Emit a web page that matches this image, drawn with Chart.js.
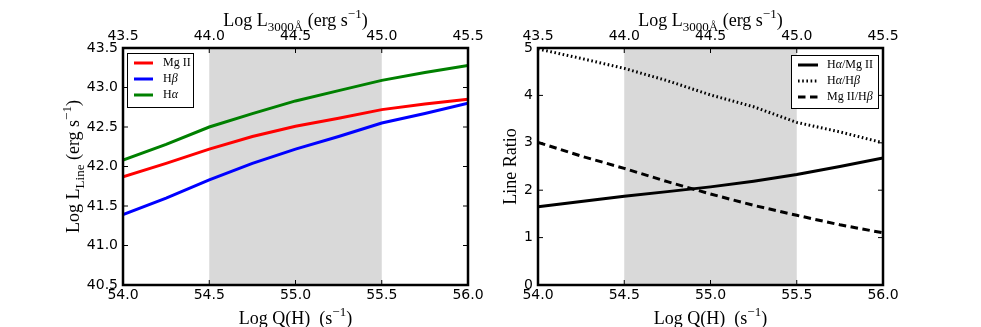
<!DOCTYPE html>
<html>
<head>
<meta charset="utf-8">
<script src="https://cdn.jsdelivr.net/npm/chart.js@4.4.1/dist/chart.umd.min.js"></script>
<style>
  html, body { margin: 0; padding: 0; background: #fff; }
  .panel { position: absolute; top: 0; }
</style>
</head>
<body>
<canvas id="lumChart" class="panel" style="left:0" width="490" height="327"></canvas>
<canvas id="ratioChart" class="panel" style="left:490px" width="491" height="327"></canvas>
<script>
/* Line luminosities and line ratios vs ionising photon rate */

const logQ = [54.0, 54.25, 54.5, 54.75, 55.0, 55.25, 55.5, 55.75, 56.0];

// left panel: Log L_line
const mgII   = [41.87, 42.04, 42.22, 42.38, 42.51, 42.61, 42.72, 42.79, 42.85];
const hBeta  = [41.39, 41.60, 41.83, 42.04, 42.22, 42.38, 42.55, 42.67, 42.80];
const hAlpha = [42.08, 42.28, 42.50, 42.67, 42.83, 42.96, 43.09, 43.19, 43.28];

// right panel: line ratios
const haOverMg = [1.65, 1.76, 1.87, 1.97, 2.07, 2.19, 2.33, 2.50, 2.68];
const haOverHb = [4.98, 4.78, 4.57, 4.31, 4.01, 3.76, 3.43, 3.23, 3.00];
const mgOverHb = [3.01, 2.72, 2.46, 2.18, 1.92, 1.68, 1.47, 1.27, 1.10];

const shadeRange = [54.5, 55.5];
const bottomTicks = [54.0, 54.5, 55.0, 55.5, 56.0];
const topTicks = [43.5, 44.0, 44.5, 45.0, 45.5];

const SANS = "'DejaVu Sans', sans-serif";
const SERIF = "'Liberation Serif', 'Times New Roman', serif";

const pts = (ys) => logQ.map((x, i) => ({ x: x, y: ys[i] }));

// draw text made of pieces: {t, sub, sup, i}
function drawRich(ctx, segs, x, y, size) {
  const fontFor = s => (s.i ? 'italic ' : '') + ((s.sub || s.sup) ? Math.round(size * 0.7) : size) + 'px ' + SERIF;
  let total = 0;
  segs.forEach(s => { ctx.font = fontFor(s); total += ctx.measureText(s.t).width; });
  let cx = x - total / 2;
  ctx.textAlign = 'left';
  ctx.textBaseline = 'alphabetic';
  ctx.fillStyle = '#000';
  segs.forEach(s => {
    ctx.font = fontFor(s);
    const dy = s.sub ? size * 0.25 : (s.sup ? -size * 0.42 : 0);
    ctx.fillText(s.t, cx, y + dy);
    cx += ctx.measureText(s.t).width;
  });
}

function drawRichLeft(ctx, segs, x, y, size) {
  const fontFor = s => (s.i ? 'italic ' : '') + size + 'px ' + SERIF;
  let cx = x;
  ctx.textAlign = 'left';
  ctx.textBaseline = 'middle';
  ctx.fillStyle = '#000';
  segs.forEach(s => {
    ctx.font = fontFor(s);
    ctx.fillText(s.t, cx, y);
    cx += ctx.measureText(s.t).width;
  });
}

const shadePlugin = {
  id: 'shade',
  beforeDatasetsDraw(chart) {
    const { ctx, chartArea: a, scales } = chart;
    const x0 = scales.x.getPixelForValue(shadeRange[0]);
    const x1 = scales.x.getPixelForValue(shadeRange[1]);
    ctx.save();
    ctx.fillStyle = '#d9d9d9';
    ctx.fillRect(x0, a.top, x1 - x0, a.bottom - a.top);
    ctx.restore();
  }
};

const framePlugin = {
  id: 'frame',
  afterDatasetsDraw(chart) {
    const { ctx, chartArea: a, scales } = chart;
    ctx.save();
    ctx.strokeStyle = '#000';
    ctx.lineWidth = 1;
    ctx.beginPath();
    scales.x.ticks.forEach((t, i) => {
      const px = scales.x.getPixelForTick(i);
      ctx.moveTo(px, a.bottom); ctx.lineTo(px, a.bottom - 5);
    });
    scales.x2.ticks.forEach((t, i) => {
      const px = scales.x2.getPixelForTick(i);
      ctx.moveTo(px, a.top); ctx.lineTo(px, a.top + 5);
    });
    scales.y.ticks.forEach((t, i) => {
      const py = scales.y.getPixelForTick(i);
      ctx.moveTo(a.left, py); ctx.lineTo(a.left + 5, py);
      ctx.moveTo(a.right, py); ctx.lineTo(a.right - 5, py);
    });
    ctx.stroke();
    ctx.lineWidth = 2.5;
    ctx.strokeRect(a.left, a.top, a.right - a.left, a.bottom - a.top);
    ctx.restore();
  }
};

const titlesPlugin = {
  id: 'titles',
  afterDraw(chart, args, opts) {
    const { ctx, chartArea: a } = chart;
    const cx = (a.left + a.right) / 2;
    ctx.save();
    drawRich(ctx, [{ t: 'Log L' }, { t: '3000Å', sub: true }, { t: ' (erg s' }, { t: '−1', sup: true }, { t: ')' }], cx, 26, 18);
    drawRich(ctx, [{ t: 'Log Q(H)  (s' }, { t: '−1', sup: true }, { t: ')' }], cx, 324, 18);
    ctx.translate(opts.yTitleX, (a.top + a.bottom) / 2);
    ctx.rotate(-Math.PI / 2);
    drawRich(ctx, opts.yTitle, 0, 0, 18);
    ctx.restore();
  }
};

const legendPlugin = {
  id: 'boxLegend',
  afterDraw(chart, args, opts) {
    const { ctx } = chart;
    const b = opts.box;
    ctx.save();
    ctx.fillStyle = '#fff';
    ctx.fillRect(b.x, b.y, b.w, b.h);
    ctx.strokeStyle = '#000';
    ctx.lineWidth = 1;
    ctx.strokeRect(b.x + 0.5, b.y + 0.5, b.w, b.h);
    chart.data.datasets.forEach((ds, i) => {
      const ry = b.y + 10 + i * 16;
      ctx.strokeStyle = ds.borderColor;
      ctx.lineWidth = ds.borderWidth;
      ctx.setLineDash(ds.borderDash || []);
      ctx.beginPath();
      ctx.moveTo(b.x + opts.lineX0, ry);
      ctx.lineTo(b.x + opts.lineX1, ry);
      ctx.stroke();
      ctx.setLineDash([]);
      drawRichLeft(ctx, opts.labels[i], b.x + opts.textX, ry, 12);
    });
    ctx.restore();
  }
};

function tickStyle(fmt, pad) {
  return {
    autoSkip: false, maxRotation: 0, color: '#000', padding: pad,
    font: { family: SANS, size: 14 },
    callback: fmt
  };
}

function makeScales(yMin, yMax, yStep, yFmt, yWidth) {
  return {
    x: {
      type: 'linear', position: 'bottom', min: 54, max: 56,
      afterBuildTicks: s => { s.ticks = bottomTicks.map(v => ({ value: v })); },
      ticks: tickStyle(v => v.toFixed(1), 2),
      grid: { display: false, drawTicks: false }, border: { display: false },
      afterFit: s => { s.height = 42; }
    },
    x2: {
      type: 'linear', position: 'top', min: 43.5, max: 45.5,
      afterBuildTicks: s => { s.ticks = topTicks.map(v => ({ value: v })); },
      ticks: tickStyle(v => v.toFixed(1), 3),
      grid: { display: false, drawTicks: false }, border: { display: false },
      afterFit: s => { s.height = 48; }
    },
    y: {
      type: 'linear', position: 'left', min: yMin, max: yMax,
      ticks: Object.assign(tickStyle(yFmt, 5), { stepSize: yStep }),
      grid: { display: false, drawTicks: false }, border: { display: false },
      afterFit: s => { s.width = yWidth; }
    }
  };
}

const common = {
  responsive: false, animation: false, devicePixelRatio: 1,
  elements: { point: { radius: 0 }, line: { tension: 0, borderCapStyle: 'butt' } }
};

new Chart(document.getElementById('lumChart'), {
  type: 'line',
  data: {
    datasets: [
      { label: 'Mg II', data: pts(mgII), borderColor: '#ff0000', borderWidth: 3, xAxisID: 'x', yAxisID: 'y' },
      { label: 'Hβ', data: pts(hBeta), borderColor: '#0000ff', borderWidth: 3, xAxisID: 'x', yAxisID: 'y' },
      { label: 'Hα', data: pts(hAlpha), borderColor: '#008000', borderWidth: 3, xAxisID: 'x', yAxisID: 'y' }
    ]
  },
  options: Object.assign({}, common, {
    layout: { padding: { right: 22, left: 0, top: 0, bottom: 0 } },
    scales: makeScales(40.5, 43.5, 0.5, v => v.toFixed(1), 123),
    plugins: {
      legend: { display: false }, tooltip: { enabled: false },
      titles: { yTitleX: 79, yTitle: [{ t: 'Log L' }, { t: 'Line', sub: true }, { t: ' (erg s' }, { t: '−1', sup: true }, { t: ')' }] },
      boxLegend: {
        box: { x: 127, y: 53, w: 66, h: 54 }, lineX0: 7, lineX1: 26, textX: 36,
        labels: [[{ t: 'Mg II' }], [{ t: 'H' }, { t: 'β', i: true }], [{ t: 'H' }, { t: 'α', i: true }]]
      }
    }
  }),
  plugins: [shadePlugin, framePlugin, titlesPlugin, legendPlugin]
});

new Chart(document.getElementById('ratioChart'), {
  type: 'line',
  data: {
    datasets: [
      { label: 'Hα/Mg II', data: pts(haOverMg), borderColor: '#000', borderWidth: 3, xAxisID: 'x', yAxisID: 'y' },
      { label: 'Hα/Hβ', data: pts(haOverHb), borderColor: '#000', borderWidth: 3, borderDash: [1.6, 2.6], xAxisID: 'x', yAxisID: 'y' },
      { label: 'Mg II/Hβ', data: pts(mgOverHb), borderColor: '#000', borderWidth: 3, borderDash: [7.5, 4.5], xAxisID: 'x', yAxisID: 'y' }
    ]
  },
  options: Object.assign({}, common, {
    layout: { padding: { right: 98, left: 0, top: 0, bottom: 0 } },
    scales: makeScales(0, 5, 1, v => String(v), 48),
    plugins: {
      legend: { display: false }, tooltip: { enabled: false },
      titles: { yTitleX: 26, yTitle: [{ t: 'Line Ratio' }] },
      boxLegend: {
        box: { x: 301, y: 55, w: 87, h: 53 }, lineX0: 7, lineX1: 27, textX: 36,
        labels: [
          [{ t: 'H' }, { t: 'α', i: true }, { t: '/Mg II' }],
          [{ t: 'H' }, { t: 'α', i: true }, { t: '/H' }, { t: 'β', i: true }],
          [{ t: 'Mg II/H' }, { t: 'β', i: true }]
        ]
      }
    }
  }),
  plugins: [shadePlugin, framePlugin, titlesPlugin, legendPlugin]
});
</script>
</body>
</html>
